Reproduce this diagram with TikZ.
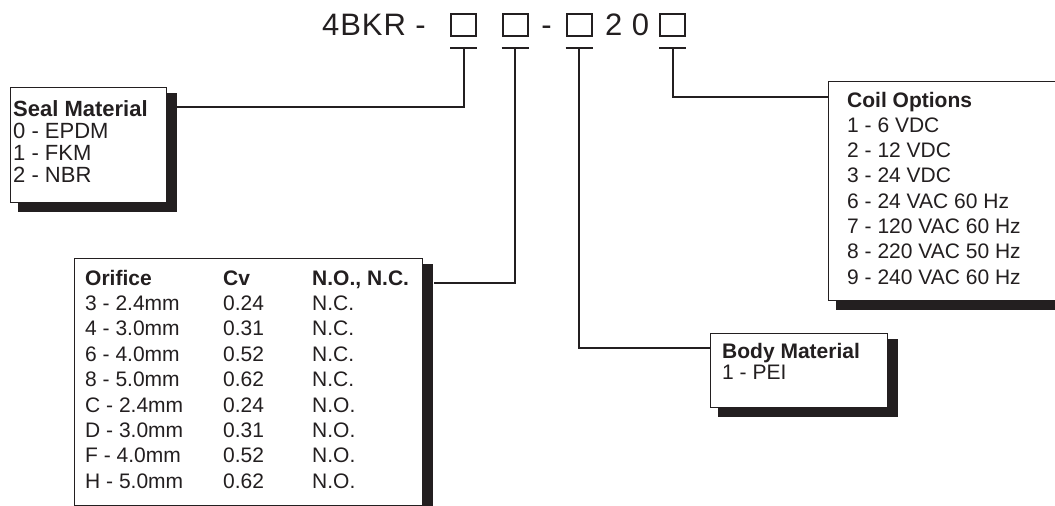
\documentclass[tikz,border=0pt]{standalone}
\usepackage{fontspec}
\setmainfont{Liberation Sans}
\usetikzlibrary{positioning,calc,backgrounds}
\definecolor{ink}{HTML}{231F20}
\tikzset{
  card/.style={draw=ink, fill=white, line width=1.2pt, anchor=north west, inner sep=0pt},
  codebox/.style={draw=ink, line width=2pt, minimum width=25pt, minimum height=22pt, inner sep=0pt},
  lead/.style={draw=ink, line width=2pt},
  shade/.style={fill=ink},
  hdr/.style={font=\fontsize{21}{21}\selectfont\bfseries, text=ink, anchor=base west, inner sep=0pt},
  item/.style={font=\fontsize{21}{21}\selectfont, text=ink, anchor=base west, inner sep=0pt},
  bighdr/.style={hdr, font=\fontsize{22}{22}\selectfont\bfseries},
  bigitem/.style={item, font=\fontsize{22}{22}\selectfont},
  title/.style={font=\fontsize{31}{31}\selectfont\addfontfeature{LetterSpace=3}, text=ink, anchor=base west, inner sep=0pt}
}
\newcommand\dropshade[1]{\fill[shade] ([xshift=8pt,yshift=-6pt]#1.north west) rectangle ([xshift=10pt,yshift=-9pt]#1.south east);}

\begin{document}
\begin{tikzpicture}[x=1pt,y=-1pt]
\useasboundingbox (0,0) rectangle (1055,506);

% Part number
\node[title] (pn) at (322,35) {4BKR -};
\node[title, anchor=base] (dash) at (546.5,35) {-};
\node[title] (tail) at (605,35) {2 0};
\foreach \c/\x in {c1/463.5, c2/515, c3/579, c4/672.5}{
  \node[codebox] (\c) at (\x,25) {};
  \draw[lead] ([yshift=-11pt]\c.south west) -- ([yshift=-11pt]\c.south east);
  \coordinate (b\c) at ([yshift=-11pt]\c.south);
}

% Option cards
\node[card, minimum width=156pt, minimum height=115pt] (seal) at (10,87) {};
\node[card, minimum width=348pt, minimum height=247pt] (orif) at (74,258) {};
\node[card, minimum width=177pt, minimum height=74pt] (body) at (710,333) {};
\node[card, minimum width=237pt, minimum height=219pt] (coil) at (828,81) {};
\begin{scope}[on background layer]
  \dropshade{seal}
  \dropshade{orif}
  \dropshade{body}
  \dropshade{coil}
\end{scope}

% Seal material
\node[bighdr] (sealhdr) at ($(seal.north west)+(3,29)$) {Seal Material};
\foreach \t [count=\i] in {0 - EPDM, 1 - FKM, 2 - NBR}
  \node[bigitem] at ($(sealhdr.base west)+(0,22.3*\i)$) {\t};

% Orifice table
\node[hdr] (orifhdr) at ($(orif.north west)+(11,27)$) {Orifice};
\node[hdr] (cvhdr) at ($(orifhdr.base west)+(138,0)$) {Cv};
\node[hdr] (modehdr) at ($(orifhdr.base west)+(227,0)$) {N.O., N.C.};
\foreach \code/\cv/\mode [count=\i] in {3 - 2.4mm/0.24/N.C., 4 - 3.0mm/0.31/N.C.,
    6 - 4.0mm/0.52/N.C., 8 - 5.0mm/0.62/N.C., C - 2.4mm/0.24/N.O.,
    D - 3.0mm/0.31/N.O., F - 4.0mm/0.52/N.O., H - 5.0mm/0.62/N.O.}{
  \node[item] at ($(orifhdr.base west)+(0,25.4*\i)$) {\code};
  \node[item] at ($(cvhdr.base west)+(0,25.4*\i)$) {\cv};
  \node[item] at ($(modehdr.base west)+(0,25.4*\i)$) {\mode};
}

% Body material
\node[hdr] (bodyhdr) at ($(body.north west)+(12,25)$) {Body Material};
\node[item] at ($(bodyhdr.base west)+(0,21.7)$) {1 - PEI};

% Coil options
\node[hdr] (coilhdr) at ($(coil.north west)+(19,26)$) {Coil Options};
\foreach \t [count=\i] in {1 - 6 VDC, 2 - 12 VDC, 3 - 24 VDC, 6 - 24 VAC 60 Hz,
    7 - 120 VAC 60 Hz, 8 - 220 VAC 50 Hz, 9 - 240 VAC 60 Hz}
  \node[item] at ($(coilhdr.base west)+(0,25.3*\i)$) {\t};

% Leaders
\draw[lead] (bc1) |- ([xshift=10pt,yshift=-20pt]seal.north east);
\draw[lead] (bc2) |- ([xshift=11pt,yshift=-25pt]orif.north east);
\draw[lead] (bc3) |- ([yshift=-15pt]body.north west);
\draw[lead] (bc4) |- ([yshift=-16pt]coil.north west);

\end{tikzpicture}
\end{document}
